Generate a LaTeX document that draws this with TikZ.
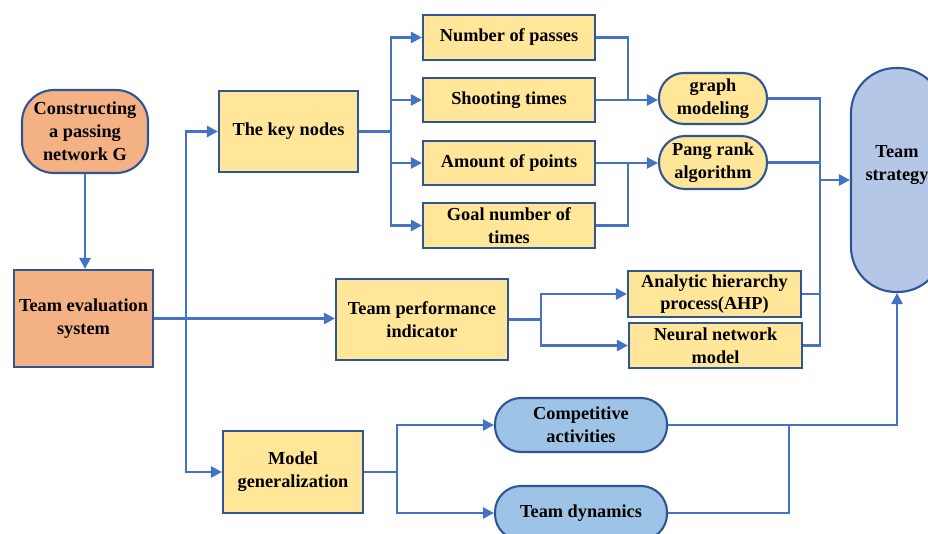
\documentclass[tikz,border=0pt]{standalone}
\usepackage{fontspec}
\setmainfont{Liberation Serif}
\usetikzlibrary{arrows.meta,calc}
\definecolor{lineblue}{HTML}{4472C4}
\definecolor{edgeblue}{HTML}{2F5597}
\definecolor{orangefill}{HTML}{F4B183}
\definecolor{yellowfill}{HTML}{FFE699}
\definecolor{bluefill}{HTML}{9DC3E6}
\definecolor{paleblue}{HTML}{B4C7E7}
\begin{document}
\begin{tikzpicture}[x=1pt,y=-1pt,
  base/.style={draw=edgeblue,line width=2.1pt,inner sep=0pt,align=center,
    font=\fontsize{18.3}{22.8}\selectfont\bfseries},
  ybox/.style={base,fill=yellowfill},
  obox/.style={base,fill=orangefill},
  bpill/.style={base,fill=bluefill},
  lbl/.style={inner sep=0pt,align=center,font=\fontsize{18.3}{22.8}\selectfont\bfseries},
  ln/.style={draw=lineblue,line width=2.5pt},
  arr/.style={draw=lineblue,line width=2.5pt,-{Triangle[length=11pt,width=11pt]}}]
\useasboundingbox (0,0) rectangle (928,534);
\clip (0,0) rectangle (928,534);
% nodes
\node[obox,minimum width=126pt,minimum height=83pt,rounded corners=32pt] (cons) at (85,131.5) {Constructing\\a passing\\network G};
\node[obox,minimum width=139pt,minimum height=97pt] (te) at (83.5,318.5) {Team evaluation\\system};
\node[ybox,minimum width=139pt,minimum height=81pt] (kn) at (288.5,131.5) {The key nodes};
\node[ybox,minimum width=172pt,minimum height=45pt] (np) at (509,37.5) {Number of passes};
\node[ybox,minimum width=172pt,minimum height=44pt] (st) at (509,100) {Shooting times};
\node[ybox,minimum width=172pt,minimum height=44pt] (ap) at (509,163) {Amount of points};
\node[ybox,minimum width=172pt,minimum height=45pt] (gn) at (509,225.5) {Goal number of\\times};
\node[ybox,minimum width=108pt,minimum height=51pt,rounded corners=25pt] (gm) at (713,98.5) {graph\\modeling};
\node[ybox,minimum width=108pt,minimum height=53pt,rounded corners=26pt] (pr) at (713,162.5) {Pang rank\\algorithm};
\node[base,fill=paleblue,minimum width=92pt,minimum height=224pt,rounded corners=45pt] (ts) at (897,180) {};
\node[lbl] (tstext) at ($(ts.center)+(0,-15)$) {Team\\strategy};
\node[ybox,minimum width=172pt,minimum height=81pt] (tp) at (422,319.5) {Team performance\\indicator};
\node[ybox,minimum width=173pt,minimum height=46pt] (ahp) at (714.5,294) {Analytic hierarchy\\process(AHP)};
\node[ybox,minimum width=173pt,minimum height=45pt] (nn) at (715.5,345.5) {Neural network\\model};
\node[ybox,minimum width=140pt,minimum height=82pt] (mg) at (293,472) {Model\\generalization};
\node[bpill,minimum width=172pt,minimum height=54pt,rounded corners=26pt] (ca) at (581,425) {Competitive\\activities};
\node[bpill,minimum width=172pt,minimum height=54pt,rounded corners=26pt] (td) at (581,513) {Team dynamics};
% connectors
\draw[arr] (cons.south) -- (cons.south |- te.north);
\draw[arr] (te.east) -- (te.east -| tp.west);
\coordinate (v1) at (186,0);
\draw[arr] (v1 |- mg.west) -- (v1 |- kn.west) -- (kn.west);
\draw[arr] (v1 |- kn.west) |- (mg.west);
% key nodes fan-out
\coordinate (b1) at ($(kn.east)+(32,0)$);
\draw[ln] (kn.east) -- (b1);
\draw[arr] (b1) |- (np.west);
\draw[arr] (b1) |- (st.west);
\draw[arr] (b1) |- (ap.west);
\draw[arr] (b1) |- (gn.west);
% to graph modeling / pang rank
\coordinate (j1) at ($(np.east)+(32,0)$);
\draw[ln] (np.east) -- (j1) -- (j1 |- st.east);
\draw[arr] (st.east) -- (st.east -| gm.west);
\coordinate (j2) at ($(gn.east)+(32,0)$);
\draw[ln] (gn.east) -- (j2) -- (j2 |- ap.east);
\draw[arr] (ap.east) -- (ap.east -| pr.west);
% to team strategy
\coordinate (c1) at (820,0);
\draw[ln] (gm.east) -- (c1 |- gm.east) -- (c1 |- nn.east) -- (nn.east);
\draw[ln] (pr.east) -- (c1 |- pr.east);
\draw[ln] (ahp.east) -- (c1 |- ahp.east);
\draw[arr] (c1 |- ts.west) -- (ts.west);
% team performance fan-out
\coordinate (c2) at ($(tp.east)+(32,0)$);
\draw[ln] (tp.east) -- (c2);
\draw[arr] (c2) |- (ahp.west);
\draw[arr] (c2) |- (nn.west);
% model generalization fan-out
\coordinate (c3) at ($(mg.east)+(33,0)$);
\draw[ln] (mg.east) -- (c3);
\draw[arr] (c3) |- (ca.west);
\draw[arr] (c3) |- (td.west);
% bottom to team strategy
\draw[arr] (ca.east) -| (ts.south);
\coordinate (c4) at ($(td.east)+(121,0)$);
\draw[ln] (td.east) -- (c4) -- (c4 |- ca.east);
\end{tikzpicture}
\end{document}
